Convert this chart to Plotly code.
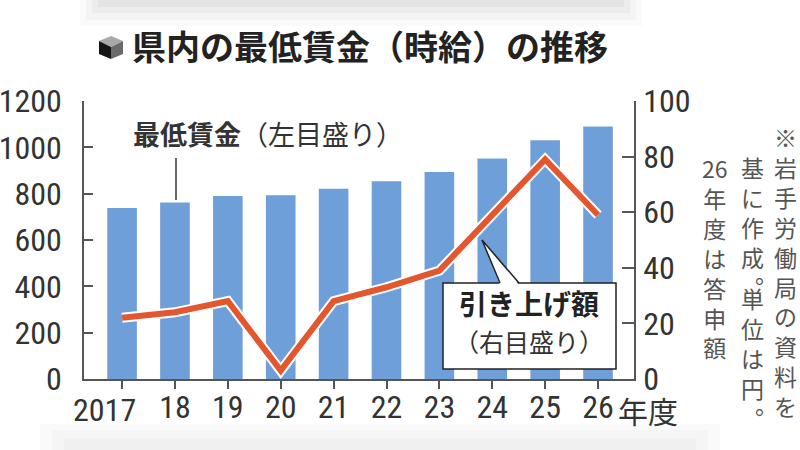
import plotly.graph_objects as go

# ---- data ----
years = ["2017", "18", "19", "20", "21", "22", "23", "24", "25", "26"]
min_wage = [738, 762, 790, 793, 821, 854, 893, 952, 1031, 1090]
increase = [22, 24, 28, 3, 28, 33, 39, 59, 79, 59]
left_ticks = [0, 200, 400, 600, 800, 1000, 1200]
right_ticks = [0, 20, 40, 60, 80, 100]

title_text = "県内の最低賃金（時給）の推移"
bar_label_bold = "最低賃金"
bar_label_rest = "（左目盛り）"
line_label_bold = "引き上げ額"
line_label_rest = "（右目盛り）"
# vertical note, split in column pieces (right to left)
note_pieces = ["※岩手労働局の資料を", "基に作成︒", "単位は円︒", "26年度は答申額"]

# ---- layout geometry (pixels) ----
W, H = 800, 450
L, R, T, B = 84, 634, 101, 379


def px(x):
    return (x - L) / (R - L)


def py(y):
    return (B - y) / (B - T)


NUM_FONT = "Liberation Sans Narrow, Roboto Condensed, Liberation Sans, Arial, sans-serif"
JP_FONT = "Noto Sans CJK JP, sans-serif"
TXT = "#333333"
AX = "#555555"

xs = list(range(len(years)))
# first label is drawn separately (shifted left, as in the original)
tick_text = [""] + years[1:]

fig = go.Figure()
fig.add_trace(go.Bar(x=xs, y=min_wage, width=0.56, marker=dict(color="#6F9FD8", line=dict(width=0)),
                     yaxis="y", hoverinfo="skip"))
fig.add_trace(go.Scatter(x=xs, y=increase, yaxis="y2", mode="lines",
                         line=dict(color="white", width=10), hoverinfo="skip"))
fig.add_trace(go.Scatter(x=xs, y=increase, yaxis="y2", mode="lines",
                         line=dict(color="#E4572E", width=6), hoverinfo="skip"))

shapes = []
# faint grey photo bands at top and bottom
for i, (h, op) in enumerate([(26, 0.02), (20, 0.025), (13, 0.03), (7, 0.03)]):
    shapes.append(dict(type="rect", xref="paper", yref="paper", x0=px(80 + i * 6), x1=px(642 - i * 6),
                       y0=py(h), y1=py(0), fillcolor=f"rgba(0,0,0,{op})", line=dict(width=0), layer="below"))
for i, (h, op) in enumerate([(424, 0.02), (430, 0.02), (438, 0.02)]):
    shapes.append(dict(type="rect", xref="paper", yref="paper", x0=px(40 + i * 12), x1=px(720 - i * 12),
                       y0=py(450), y1=py(h), fillcolor=f"rgba(0,0,0,{op})", line=dict(width=0), layer="below"))

# cube icon
cx, top, bot, lft, rgt, mid = 111, 36, 59, 99, 123, 47


def path(pts):
    return "M " + " L ".join(f"{px(a)} {py(b)}" for a, b in pts) + " Z"


shapes.append(dict(type="path", xref="paper", yref="paper",
                   path=path([(cx, top), (rgt, 41), (cx, mid), (lft, 41)]),
                   fillcolor="#a8a8a8", line=dict(width=0)))
shapes.append(dict(type="path", xref="paper", yref="paper",
                   path=path([(lft, 41), (cx, mid), (cx, bot), (lft, 54)]),
                   fillcolor="#151515", line=dict(width=0)))
shapes.append(dict(type="path", xref="paper", yref="paper",
                   path=path([(cx, mid), (rgt, 41), (rgt, 54), (cx, bot)]),
                   fillcolor="#6a6a6a", line=dict(width=0)))

# leader line for bar label
shapes.append(dict(type="line", xref="paper", yref="paper", x0=px(176), x1=px(176), y0=py(158), y1=py(200),
                   line=dict(color=TXT, width=1.5)))

# callout box for line label
shapes.append(dict(type="rect", xref="paper", yref="paper", x0=px(443), x1=px(616), y0=py(369), y1=py(283),
                   fillcolor="white", line=dict(color="#222222", width=1.5), layer="above"))
shapes.append(dict(type="path", xref="paper", yref="paper",
                   path=path([(500, 285), (482, 240), (519, 285)]),
                   fillcolor="white", line=dict(width=0), layer="above"))
shapes.append(dict(type="path", xref="paper", yref="paper",
                   path=f"M {px(500)} {py(283)} L {px(482)} {py(240)} L {px(519)} {py(283)}",
                   fillcolor="rgba(0,0,0,0)", line=dict(color="#222222", width=1.5), layer="above"))

annotations = []
annotations.append(dict(xref="paper", yref="paper", x=px(130), y=py(46), xanchor="left", yanchor="middle",
                        text=f"<b>{title_text}</b>", showarrow=False,
                        font=dict(family=JP_FONT, size=34, color="#222222")))
annotations.append(dict(xref="paper", yref="paper", x=px(131), y=py(133), xanchor="left", yanchor="middle",
                        text=f"<b>{bar_label_bold}</b>{bar_label_rest}", showarrow=False,
                        font=dict(family=JP_FONT, size=27, color=TXT)))
annotations.append(dict(xref="paper", yref="paper", x=px(529), y=py(303), xanchor="center", yanchor="middle",
                        text=f"<b>{line_label_bold}</b>", showarrow=False,
                        font=dict(family=JP_FONT, size=28, color="#222222")))
annotations.append(dict(xref="paper", yref="paper", x=px(529), y=py(341), xanchor="center", yanchor="middle",
                        text=line_label_rest, showarrow=False,
                        font=dict(family=JP_FONT, size=25, color=TXT)))
annotations.append(dict(xref="paper", yref="paper", x=px(616), y=py(410), xanchor="left", yanchor="middle",
                        text="年度", showarrow=False,
                        font=dict(family=JP_FONT, size=30, color=TXT)))
annotations.append(dict(xref="paper", yref="paper", x=px(104), y=py(410), xanchor="center", yanchor="middle",
                        text=years[0], showarrow=False,
                        font=dict(family=NUM_FONT, size=32, color=TXT)))

# vertical note: each piece is a column of characters stacked with line breaks
piece_x = [785, 752, 752, 715]
piece_top = [118, 148, 279, 149]
for xp, yt, piece in zip(piece_x, piece_top, note_pieces):
    chars = []
    i = 0
    while i < len(piece):
        if piece[i].isdigit() and i + 1 < len(piece) and piece[i + 1].isdigit():
            chars.append(piece[i:i + 2])
            i += 2
        else:
            chars.append(piece[i])
            i += 1
    annotations.append(dict(xref="paper", yref="paper", x=px(xp), y=py(yt), xanchor="center",
                            yanchor="top", align="center", text="<br>".join(chars), showarrow=False,
                            font=dict(family=JP_FONT, size=23, color="#555555")))

tickfont = dict(family=NUM_FONT, size=32, color=TXT)
fig.update_layout(
    template="none",
    width=W, height=H, autosize=False,
    margin=dict(l=L, r=W - R, t=T, b=H - B, pad=0),
    paper_bgcolor="white", plot_bgcolor="white",
    showlegend=False, bargap=0.4,
    xaxis=dict(range=[-0.72, 9.68], tickmode="array", tickvals=xs, ticktext=tick_text, tickangle=0,
               automargin=False,
               showline=True, linecolor=AX, linewidth=1.5, ticks="outside", ticklen=8, tickwidth=1.5,
               tickcolor=AX, showgrid=False, zeroline=False, fixedrange=True,
               tickfont=tickfont, ticklabelstandoff=-9),
    yaxis=dict(range=[0, 1200], tickmode="array", tickvals=left_ticks, ticktext=[str(v) for v in left_ticks],
               automargin=False,
               showline=True, linecolor=AX, linewidth=1.5, ticks="inside", ticklen=9, tickwidth=1.5,
               tickcolor=AX, showgrid=False, zeroline=False,
               tickfont=tickfont, ticklabelstandoff=14),
    yaxis2=dict(range=[0, 100], overlaying="y", side="right", tickmode="array", tickvals=right_ticks,
                ticktext=[str(v) for v in right_ticks], automargin=False,
                showline=True, linecolor=AX, linewidth=1.5, ticks="inside", ticklen=12, tickwidth=1.5,
                tickcolor=AX, showgrid=False, zeroline=False,
                tickfont=tickfont, ticklabelstandoff=1),
    shapes=shapes, annotations=annotations,
)

fig.write_html("out.html", config={"displayModeBar": False},
               post_script="document.body.style.margin='0';document.body.style.overflow='hidden';")
